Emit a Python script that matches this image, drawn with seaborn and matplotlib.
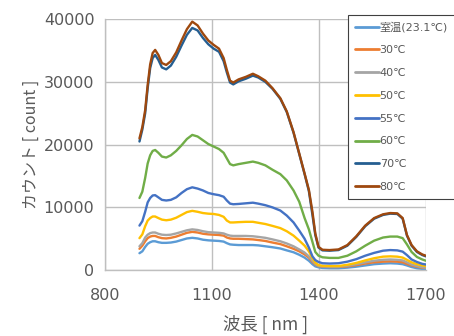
import numpy as np
import pandas as pd
import matplotlib
matplotlib.use('Agg')
from matplotlib import pyplot as plt
import seaborn as sb

sb.set_style('white')
plt.rcParams['font.family'] = ['DejaVu Sans', 'Noto Sans CJK JP']

# wavelength grid [nm]
wl = [897, 905, 913, 920, 927, 934, 941, 950, 960, 972, 985, 1000, 1015, 1030,
      1045, 1060, 1075, 1090, 1105, 1120, 1133, 1142, 1151, 1160, 1175, 1195,
      1215, 1230, 1250, 1270, 1292, 1310, 1329, 1345, 1360, 1372, 1382, 1390,
      1399, 1410, 1430, 1455, 1480, 1505, 1530, 1555, 1580, 1600, 1620, 1635,
      1647, 1660, 1675, 1690, 1700]

labels = ['室温(23.1℃)', '30℃', '40℃', '50℃', '55℃', '60℃', '70℃', '80℃']
colors = ['#5B9BD5', '#ED7D31', '#A5A5A5', '#FFC000', '#4472C4', '#70AD47',
          '#255E91', '#9E480E']

c_rt = [2700, 3000, 3700, 4200, 4450, 4600, 4600, 4450, 4350, 4350, 4400, 4550,
        4800, 5050, 5150, 5050, 4850, 4750, 4700, 4650, 4550, 4300, 4100, 4050,
        4000, 4000, 4000, 3950, 3800, 3650, 3450, 3150, 2850, 2450, 2000, 1500,
        950, 600, 450, 350, 300, 300, 400, 550, 750, 950, 1050, 1100, 1050, 950,
        750, 500, 300, 200, 150]
c_30 = [3400, 3900, 4600, 5100, 5350, 5450, 5450, 5250, 5100, 5050, 5150, 5350,
        5650, 5950, 6100, 6000, 5800, 5700, 5650, 5600, 5500, 5200, 5050, 5000,
        5000, 4950, 4900, 4800, 4650, 4400, 4150, 3800, 3400, 3000, 2500, 2000,
        1300, 900, 650, 550, 500, 500, 600, 800, 1050, 1250, 1350, 1400, 1350,
        1250, 1000, 750, 550, 400, 350]
c_40 = [3800, 4300, 5200, 5650, 5900, 6000, 6000, 5800, 5650, 5600, 5650, 5850,
        6100, 6350, 6500, 6400, 6200, 6050, 6000, 5950, 5850, 5650, 5500, 5450,
        5450, 5450, 5400, 5300, 5150, 4900, 4600, 4250, 3800, 3300, 2800, 2200,
        1500, 1000, 700, 600, 550, 550, 700, 950, 1250, 1500, 1650, 1700, 1650,
        1550, 1250, 900, 650, 450, 400]
c_50 = [5100, 5700, 7000, 7900, 8300, 8550, 8550, 8300, 8050, 7950, 8050, 8350,
        8800, 9250, 9450, 9300, 9100, 9000, 8950, 8800, 8500, 7900, 7600, 7600,
        7650, 7700, 7700, 7550, 7350, 7050, 6700, 6200, 5500, 4700, 3900, 3000,
        1900, 1200, 800, 700, 650, 650, 850, 1150, 1550, 1900, 2150, 2200, 2150,
        2000, 1650, 1250, 950, 750, 650]
c_55 = [7100, 7800, 9300, 10800, 11500, 11900, 11950, 11600, 11200, 11100, 11200,
        11600, 12300, 12900, 13200, 13000, 12700, 12300, 12100, 11950, 11700,
        11100, 10600, 10500, 10550, 10650, 10750, 10600, 10350, 10000, 9500, 8700,
        7600, 6300, 5000, 3600, 2200, 1600, 1300, 1100, 1050, 1100, 1350, 1750,
        2300, 2750, 3100, 3200, 3150, 2950, 2400, 1700, 1300, 1000, 900]
c_60 = [11500, 12500, 14700, 17000, 18300, 19000, 19150, 18700, 18100, 17950,
        18300, 19000, 19900, 20900, 21550, 21300, 20700, 20100, 19700, 19300,
        18700, 17800, 16900, 16700, 16900, 17100, 17300, 17100, 16700, 16000,
        15300, 14300, 12700, 10900, 8300, 6500, 4500, 2900, 2300, 2050, 1950,
        1950, 2300, 3000, 3900, 4700, 5200, 5350, 5350, 5100, 4100, 2900, 2100,
        1700, 1500]
c_70 = [20500, 22400, 25000, 29000, 32200, 33800, 34300, 33500, 32300, 32000,
        32600, 34000, 35800, 37500, 38600, 38200, 37000, 36000, 35300, 34800,
        33300, 31500, 29900, 29600, 30100, 30500, 31000, 30700, 30000, 28900,
        27300, 25200, 21900, 18500, 15300, 12600, 8800, 5600, 3600, 3150, 3100,
        3200, 3900, 5300, 7000, 8200, 8800, 9000, 8950, 8200, 5500, 3900, 2900,
        2400, 2200]
c_80 = [21000, 22800, 25500, 29500, 32800, 34600, 35100, 34300, 33000, 32700,
        33300, 34700, 36600, 38400, 39600, 39000, 37700, 36600, 35900, 35300,
        33800, 31900, 30200, 29900, 30400, 30800, 31300, 30900, 30200, 29000,
        27400, 25300, 22000, 18600, 15400, 12800, 9300, 5850, 3720, 3250, 3200,
        3300, 4000, 5400, 7100, 8300, 8900, 9100, 9050, 8300, 5600, 4000, 3000,
        2500, 2300]

series = [c_rt, c_30, c_40, c_50, c_55, c_60, c_70, c_80]
df = pd.concat([pd.DataFrame({'wl': wl, 'count': s, 'temp': lab})
                for s, lab in zip(series, labels)], ignore_index=True)

txt = '#595959'
grid = '#BFBFBF'

fig = plt.figure(figsize=(4.54, 3.36), dpi=100)
ax = fig.add_axes([0.231, 0.196, 0.707, 0.747])

sb.lineplot(data=df, x='wl', y='count', hue='temp', hue_order=labels,
            palette=dict(zip(labels, colors)), estimator=None, sort=False,
            linewidth=1.7, ax=ax)
for ln in ax.get_lines():
    ln.set_solid_joinstyle('round')

ax.set_xlim(800, 1700)
ax.set_ylim(0, 40000)
ax.set_xticks([800, 1100, 1400, 1700])
ax.set_yticks([0, 10000, 20000, 30000, 40000])
ax.grid(True, color=grid, linewidth=1.0)
for s in ['top', 'right']:
    ax.spines[s].set_visible(False)
for s in ['left', 'bottom']:
    ax.spines[s].set_color(grid)
    ax.spines[s].set_linewidth(1.0)
ax.tick_params(axis='both', colors=grid, labelcolor=txt, labelsize=11.5,
               length=4, width=1.0, direction='out')
ax.tick_params(axis='x', pad=9)
ax.set_xlabel('波長 [ nm ]', color=txt, fontsize=12.5,
              family=['Noto Sans CJK JP', 'DejaVu Sans'], labelpad=8)
ax.set_ylabel('カウント [ count ]', color=txt, fontsize=11.5,
              family=['Noto Sans CJK JP', 'DejaVu Sans'], labelpad=3)

handles, _ = ax.get_legend_handles_labels()
leg = ax.legend(handles, labels, loc='upper left',
                bbox_to_anchor=(348 / 454, 1 - 15 / 336),
                bbox_transform=fig.transFigure, fontsize=8, frameon=True,
                fancybox=False, edgecolor='#404040', framealpha=1,
                labelspacing=1.15, handlelength=2.2, handletextpad=0.05,
                borderpad=0.6, borderaxespad=0, labelcolor=txt)
leg.get_frame().set_linewidth(0.8)
for ln in leg.get_lines():
    ln.set_linewidth(2.0)

fig.savefig('out.png', dpi=100)
